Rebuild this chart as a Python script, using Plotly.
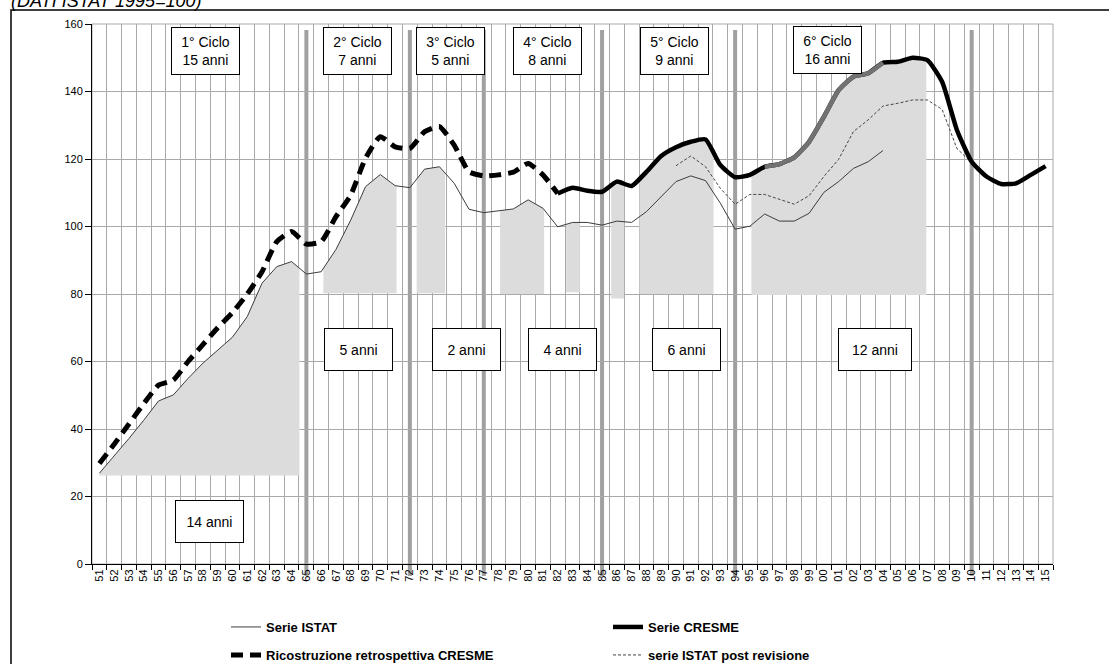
import numpy as np
import plotly.graph_objects as go

# ---------------- data ----------------
years = [f"{y % 100:02d}" for y in range(1951, 2016)]  # 51 .. 15

# Serie ISTAT (1951-2004)
istat = [26.9, 31.9, 37.2, 42.6, 48.3, 50.1, 55.0, 59.5, 63.4, 67.2,
         73.3, 83.2, 88.1, 89.6, 85.9, 86.6, 93.2, 101.9, 111.8, 115.4,
         112.1, 111.5, 117.0, 117.7, 112.8, 105.1, 104.1, 104.6, 105.2, 107.9,
         105.4, 99.9, 101.2, 101.2, 100.4, 101.6, 101.2, 104.4, 108.8, 113.3,
         115.0, 113.6, 106.9, 99.2, 100.1, 103.7, 101.6, 101.6, 103.9, 110.1,
         113.3, 117.2, 119.2, 122.5]
istat_start = "51"

# Ricostruzione retrospettiva CRESME (1951-1982)
cresme_retro = [29.8, 35.5, 41.5, 47.5, 53.0, 54.5, 60.0, 65.0, 70.0, 74.5,
                80.0, 86.6, 95.5, 98.5, 94.8, 95.5, 102.9, 109.3, 120.2, 126.6,
                123.6, 123.1, 128.1, 129.6, 124.1, 116.2, 115.0, 115.3, 116.1, 118.7,
                115.3, 109.8]
cresme_retro_start = "51"

# Serie CRESME (1982-2015)
cresme = [109.8, 111.5, 110.6, 110.3, 113.3, 112.0, 116.2, 120.9, 123.5, 125.1,
          125.8, 118.2, 114.6, 115.3, 117.7, 118.5, 120.5, 125.1, 132.5, 140.4,
          144.4, 145.4, 148.5, 148.8, 150.0, 149.3, 142.9, 128.6, 119.2, 114.8,
          112.6, 112.8, 115.3, 117.9]
cresme_start = "82"

# grey retrace of the CRESME series (1996-2004)
cresme_grey = [117.7, 118.5, 120.5, 125.1, 132.5, 140.4, 144.4, 145.4, 148.5]
cresme_grey_start = "96"

# serie ISTAT post revisione (1990-2010)
istat_rev = [118.0, 120.9, 117.7, 111.3, 106.6, 109.5, 109.5, 108.0, 106.6, 109.1,
             114.8, 119.9, 128.1, 131.6, 135.7, 136.5, 137.5, 137.5, 134.7, 123.1,
             118.9]
istat_rev_start = "90"

# cycle boundaries (years)
cycle_breaks = ["65", "72", "77", "85", "94", "10"]

# shaded phases: (from, to) in category units, base level, series used as top
shade_istat = [(0.0, 13.53, 26.2), (15.15, 20.1, 80.2), (21.46, 23.38, 80.2),
               (27.1, 30.08, 80.0), (31.57, 32.5, 80.5)]
shade_cresme = [(34.62, 35.49, 78.7), (36.53, 41.54, 80.0), (44.1, 55.93, 79.7)]

cycle_labels = ["1° Ciclo<br>15 anni", "2° Ciclo<br>7 anni", "3° Ciclo<br>5 anni",
                "4° Ciclo<br>8 anni", "5° Ciclo<br>9 anni", "6° Ciclo<br>16 anni"]
phase_labels = ["14 anni", "5 anni", "2 anni", "4 anni", "6 anni", "12 anni"]

# ---------------- helpers ----------------
def xs_for(start, values):
    i0 = years.index(start)
    return list(range(i0, i0 + len(values)))

def band_poly(a, b, base, start, values):
    xs = np.array(xs_for(start, values), dtype=float)
    vs = np.array(values, dtype=float)
    inner = [i for i in xs if a < i < b]
    px = [a] + inner + [b]
    py = list(np.interp(px, xs, vs))
    return [a] + px + [b, a], [base] + py + [base, base]

FONT = "Liberation Sans, Arial, sans-serif"
GRID = "#a9a9a9"
FILL = "#dcdcdc"

fig = go.Figure()

for a, b, base in shade_istat:
    px, py = band_poly(a, b, base, istat_start, istat)
    fig.add_trace(go.Scatter(x=px, y=py, mode="lines", fill="toself", fillcolor=FILL,
                             line=dict(width=0, color=FILL), showlegend=False, hoverinfo="skip"))
for a, b, base in shade_cresme:
    px, py = band_poly(a, b, base, cresme_start, cresme)
    fig.add_trace(go.Scatter(x=px, y=py, mode="lines", fill="toself", fillcolor=FILL,
                             line=dict(width=0, color=FILL), showlegend=False, hoverinfo="skip"))

fig.add_trace(go.Scatter(x=xs_for(istat_start, istat), y=istat, mode="lines",
                         name="Serie ISTAT", line=dict(color="#3c3c3c", width=1),
                         legend="legend", legendrank=1))
fig.add_trace(go.Scatter(x=xs_for(istat_rev_start, istat_rev), y=istat_rev, mode="lines",
                         name="serie ISTAT post revisione",
                         line=dict(color="#444444", width=1, dash="3px,2px"),
                         legend="legend2", legendrank=4))
fig.add_trace(go.Scatter(x=xs_for(cresme_retro_start, cresme_retro), y=cresme_retro, mode="lines",
                         name="Ricostruzione retrospettiva CRESME",
                         line=dict(color="black", width=5, dash="12px,7px", shape="spline", smoothing=0.5),
                         legend="legend2", legendrank=3))
fig.add_trace(go.Scatter(x=xs_for(cresme_start, cresme), y=cresme, mode="lines",
                         name="Serie CRESME",
                         line=dict(color="black", width=4.5, shape="spline", smoothing=0.5),
                         legend="legend", legendrank=2))
fig.add_trace(go.Scatter(x=xs_for(cresme_grey_start, cresme_grey), y=cresme_grey, mode="lines",
                         line=dict(color="#727272", width=4.5, shape="spline", smoothing=0.5),
                         showlegend=False, hoverinfo="skip"))

# ---------------- layout ----------------
L, R, T, B = 92, 56, 24, 100
W, H = 1109, 664
pw, ph = W - L - R, H - T - B

def px2x(p):
    return (p - L) / pw

def px2y(p):
    return (H - B - p) / ph

shapes = []
shapes.append(dict(type="rect", xref="paper", yref="paper", x0=0, x1=1, y0=0, y1=1,
                   line=dict(color=GRID, width=1), layer="below"))
for c in cycle_breaks:
    xi = years.index(c)
    shapes.append(dict(type="line", xref="x", yref="paper", x0=xi, x1=xi,
                       y0=px2y(576), y1=px2y(30), line=dict(color="#a0a0a0", width=4),
                       layer="below"))
shapes.append(dict(type="rect", xref="paper", yref="paper", x0=px2x(11), x1=px2x(1115),
                   y0=px2y(690), y1=px2y(10), line=dict(color="black", width=1.5)))

annotations = []
cyc_pos = [(7.21, 152.0), (17.46, 152.0), (23.78, 152.0), (30.3, 152.0), (38.89, 152.0), (49.22, 152.4)]
for txt, (xi, yv) in zip(cycle_labels, cyc_pos):
    annotations.append(dict(x=xi, y=yv, xref="x", yref="y", text=txt, showarrow=False,
                            bordercolor="black", borderwidth=1, borderpad=0, bgcolor="white",
                            width=67, height=46, align="center", valign="middle",
                            font=dict(family=FONT, size=14, color="black")))
ph_pos = [(7.45, 12.65), (17.53, 63.7), (24.8, 63.7), (31.3, 63.7), (39.69, 63.7), (52.44, 63.7)]
for txt, (xi, yv) in zip(phase_labels, ph_pos):
    w = 72 if txt.startswith("12") else 67
    annotations.append(dict(x=xi, y=yv, xref="x", yref="y", text=txt, showarrow=False,
                            bordercolor="black", borderwidth=1, borderpad=0, bgcolor="white",
                            width=w, height=41, align="center", valign="middle",
                            font=dict(family=FONT, size=14, color="black")))
annotations.append(dict(x=px2x(9), y=px2y(1), xref="paper", yref="paper",
                        xanchor="left", yanchor="middle", showarrow=False,
                        text="<i>(DATI ISTAT 1995=100)</i>",
                        font=dict(family=FONT, size=18, color="black")))

legend_common = dict(orientation="h", xanchor="left", yanchor="middle",
                     entrywidth=337, entrywidthmode="pixels",
                     bgcolor="rgba(0,0,0,0)", borderwidth=0,
                     font=dict(family=FONT, size=13, color="black", weight="bold"),
                     traceorder="normal")

fig.update_layout(
    width=W, height=H,
    margin=dict(l=L, r=R, t=T, b=B, autoexpand=False),
    paper_bgcolor="white", plot_bgcolor="white",
    showlegend=True,
    legend=dict(x=px2x(226), y=px2y(627), **legend_common),
    legend2=dict(x=px2x(226), y=px2y(655), **legend_common),
    xaxis=dict(range=[-0.5, 64.5], tickmode="array", tickvals=list(range(len(years))),
               ticktext=years, tickangle=-90, ticks="", showgrid=False,
               showline=True, linecolor="black", linewidth=1, zeroline=False,
               tickfont=dict(family=FONT, size=11, color="black"),
               minor=dict(tickmode="array", tickvals=[i - 0.5 for i in range(len(years) + 1)],
                          ticks="outside", ticklen=5, tickcolor="black", tickwidth=1,
                          showgrid=True, gridcolor=GRID, gridwidth=1)),
    yaxis=dict(range=[0, 160], tickmode="array", tickvals=list(range(0, 161, 20)),
               ticks="outside", ticklen=6, tickcolor="black", showline=True,
               linecolor="black", linewidth=1, showgrid=True, gridcolor=GRID,
               gridwidth=1, zeroline=False,
               tickfont=dict(family=FONT, size=11, color="black")),
    shapes=shapes,
    annotations=annotations,
)

fig.write_html("out.html", config={"displayModeBar": False},
               post_script="document.body.style.margin='0px';document.body.style.padding='0px';")
